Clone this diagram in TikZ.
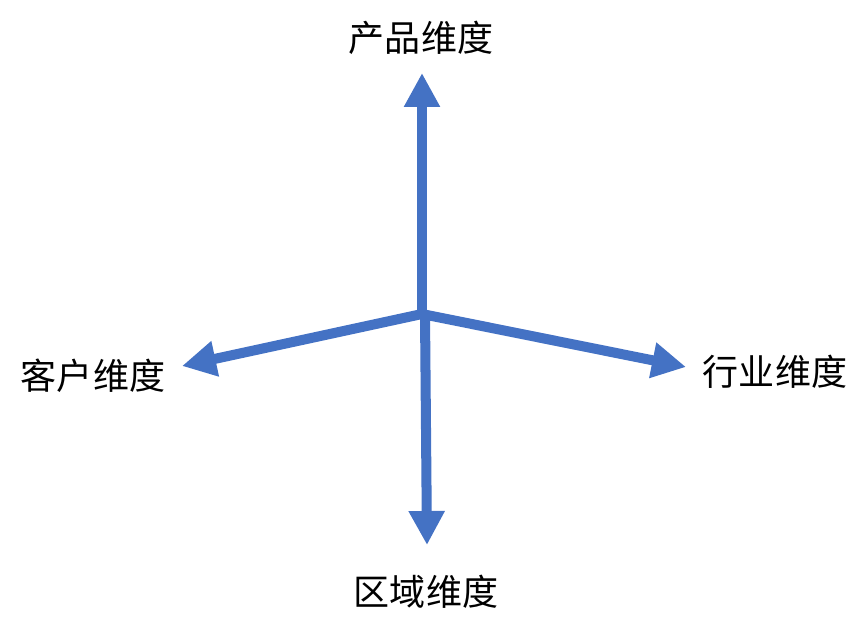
\documentclass[tikz,border=0pt]{standalone}
\usepackage{fontspec}
\newfontfamily\cjk{Noto Sans CJK SC}
\usetikzlibrary{arrows.meta}

\begin{document}
\begin{tikzpicture}[x=0.02cm, y=-0.02cm,
    axisarrow/.style={line width=5.7pt, draw={rgb,255:red,68;green,114;blue,196}, -{Triangle[length=6.8mm, width=6.8mm]}},
    axislabel/.style={font=\cjk\fontsize{20.5}{24}\selectfont, inner sep=0pt}]
    \useasboundingbox (0,0) rectangle (868,636);

    \coordinate (O) at (422,314);
    \coordinate (O_down) at (425,314);

    \coordinate (tip_up) at (422,73);
    \coordinate (tip_left) at (182,366);
    \coordinate (tip_right) at (686,367);
    \coordinate (tip_down) at (427,545);

    \node (prod) [axislabel] at (421,38) {产品维度};
    \node (cust) [axislabel] at (93,376) {客户维度};
    \node (ind)  [axislabel] at (775,372) {行业维度};
    \node (reg)  [axislabel] at (426,592) {区域维度};

    \draw [axisarrow] (O) -- (tip_left);
    \draw [axisarrow] (O) -- (tip_right);
    \draw [axisarrow] (O_down) -- (tip_down);
    \draw [axisarrow] (O) -- (tip_up);

\end{tikzpicture}
\end{document}
